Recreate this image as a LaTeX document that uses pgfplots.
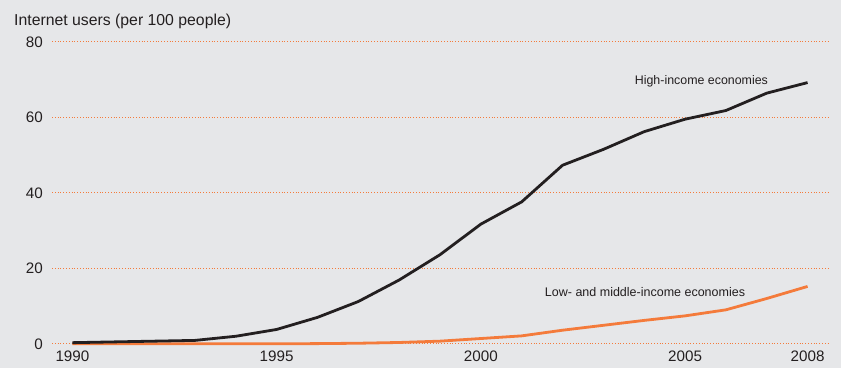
\documentclass[border=0pt]{standalone}
\usepackage{pgfplots}
\pgfplotsset{compat=1.18}
\usepackage{fontspec}
\setmainfont{Liberation Sans}
\definecolor{bg}{HTML}{E6E7E9}
\definecolor{orng}{HTML}{F47B3B}
\definecolor{txt}{HTML}{231F20}
\begin{document}
\begin{tikzpicture}[x=1pt,y=1pt]
\useasboundingbox (0,0) rectangle (841,368);
\fill[bg] (0,0) rectangle (841,368);
\node[anchor=base west, text=txt, font=\fontsize{15.8}{18}\selectfont, inner sep=0pt] at (14,343) {Internet users (per 100 people)};
\begin{axis}[
  at={(52pt,24.2pt)}, anchor=south west,
  scale only axis, width=776pt, height=302pt,
  xmin=1989.5, xmax=2008.5, ymin=0, ymax=80,
  axis line style={draw=none},
  major tick length=0pt,
  xtick={1990,1995,2000,2005,2008},
  ytick={0,20,40,60,80},
  ymajorgrids,
  grid style={orng, line width=0.8pt, dash pattern=on 0.8pt off 2pt},
  /pgf/number format/assume math mode=true,
  /pgf/number format/1000 sep={},
  tick label style={text=txt, font=\fontsize{15.2}{18}\selectfont},
  yticklabel style={anchor=east, inner sep=0pt, xshift=-9pt},
  xticklabel style={anchor=north, inner sep=0pt, yshift=-7pt},
  clip=false,
]
\addplot[orng, line width=2.8pt] coordinates {
(1990,0.0) (1991,0.0) (1992,0.0) (1993,0.0) (1994,0.0) (1995,0.0) (1996,0.05) (1997,0.15)
(1998,0.35) (1999,0.7) (2000,1.4) (2001,2.1) (2002,3.6) (2003,4.9) (2004,6.2)
(2005,7.4) (2006,9.0) (2007,12.0) (2008,15.2)};
\addplot[txt, line width=2.8pt] coordinates {
(1990,0.3) (1991,0.5) (1992,0.7) (1993,0.9) (1994,2.0) (1995,3.8) (1996,7.0) (1997,11.2)
(1998,16.9) (1999,23.6) (2000,31.7) (2001,37.6) (2002,47.3) (2003,51.5) (2004,56.2)
(2005,59.5) (2006,61.8) (2007,66.4) (2008,69.2)};
\node[text=txt, font=\fontsize{12.4}{14}\selectfont] at (axis cs:2005.4,69.6) {High-income economies};
\node[text=txt, font=\fontsize{12.5}{14}\selectfont] at (axis cs:2004.02,13.7) {Low- and middle-income economies};
\end{axis}
\end{tikzpicture}
\end{document}
